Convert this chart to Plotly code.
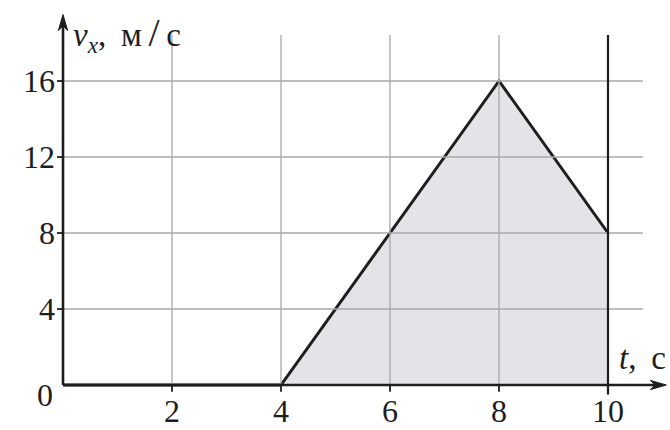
import plotly.graph_objects as go

# Velocity-time graph: v_x(t)
t_points = [0, 4, 8, 10]
v_points = [0, 0, 16, 8]

# Shaded region under the graph (displacement area)
area_t = [4, 8, 10, 10]
area_v = [0, 16, 8, 0]

x_ticks = [2, 4, 6, 8, 10]
y_ticks = [4, 8, 12, 16]
x_tick_labels = ["2", "4", "6", "8", "10"]
y_tick_labels = ["4", "8", "12", "16"]

# Pixel scale of the drawing
W, H = 670, 430
ox, oy = 63, 385          # origin in pixels
px_x, px_y = 54.5, 19.0   # pixels per unit
x_range = [-ox / px_x, (W - ox) / px_x]
y_range = [-(H - oy) / px_y, oy / px_y]

grid_top = 18.42
grid_right = 10.64
x_arrow_end = 11.07
y_arrow_end = 19.5

font_family = "Liberation Serif, DejaVu Serif, serif"
ink = "#1e1e1e"
grid_color = "#a8a8a8"

fig = go.Figure()

fig.add_trace(go.Scatter(
    x=area_t, y=area_v, mode="lines", fill="toself",
    fillcolor="#e4e4e8", line=dict(width=0), hoverinfo="skip",
    showlegend=False,
))

shapes = []
# vertical grid
for xv in x_ticks[:-1]:
    shapes.append(dict(type="line", xref="x", yref="y", x0=xv, x1=xv,
                       y0=0, y1=grid_top, line=dict(color=grid_color, width=1.3),
                       layer="above"))
# horizontal grid
for yv in y_ticks:
    shapes.append(dict(type="line", xref="x", yref="y", x0=0, x1=grid_right,
                       y0=yv, y1=yv, line=dict(color=grid_color, width=1.3),
                       layer="above"))
# vertical boundary at t = 10
shapes.append(dict(type="line", xref="x", yref="y", x0=x_ticks[-1], x1=x_ticks[-1],
                   y0=-0.5, y1=grid_top, line=dict(color=ink, width=2.2),
                   layer="above"))
# y tick marks
for yv in y_ticks:
    shapes.append(dict(type="line", xref="x", yref="y", x0=-0.11, x1=0,
                       y0=yv, y1=yv, line=dict(color=ink, width=1.8), layer="above"))
# x tick marks
for xv in x_ticks[:-1]:
    shapes.append(dict(type="line", xref="x", yref="y", x0=xv, x1=xv,
                       y0=-0.35, y1=0, line=dict(color=ink, width=1.8), layer="above"))

# coordinate axes
shapes.append(dict(type="line", xref="x", yref="y", x0=0, x1=x_arrow_end - 0.15,
                   y0=0, y1=0, line=dict(color=ink, width=2.6), layer="above"))
shapes.append(dict(type="line", xref="x", yref="y", x0=0, x1=0,
                   y0=0, y1=y_arrow_end - 0.4, line=dict(color=ink, width=2.6),
                   layer="above"))

# slim arrowheads (length / half-width given in pixels)
head_len, head_half = 16, 4.6
hx, hy = head_len / px_x, head_half / px_y
shapes.append(dict(
    type="path", xref="x", yref="y", layer="above",
    path=f"M{x_arrow_end},0 L{x_arrow_end - hx},{hy} "
         f"L{x_arrow_end - 0.7 * hx},0 L{x_arrow_end - hx},{-hy} Z",
    fillcolor=ink, line=dict(color=ink, width=1),
))
vx, vy = head_half / px_x, head_len / px_y
shapes.append(dict(
    type="path", xref="x", yref="y", layer="above",
    path=f"M0,{y_arrow_end} L{vx},{y_arrow_end - vy} "
         f"L0,{y_arrow_end - 0.7 * vy} L{-vx},{y_arrow_end - vy} Z",
    fillcolor=ink, line=dict(color=ink, width=1),
))

fig.add_trace(go.Scatter(
    x=t_points, y=v_points, mode="lines",
    line=dict(color=ink, width=3), hoverinfo="skip", showlegend=False,
))

annotations = []
tick_font = dict(family=font_family, size=32, color=ink)
for xv, lab in zip(x_ticks, x_tick_labels):
    annotations.append(dict(x=xv, y=0, xref="x", yref="y", text=lab,
                            showarrow=False, xanchor="center", yanchor="middle",
                            yshift=-26, font=tick_font))
for yv, lab in zip(y_ticks, y_tick_labels):
    annotations.append(dict(x=0, y=yv, xref="x", yref="y", text=lab,
                            showarrow=False, xanchor="right", yanchor="middle",
                            xshift=-6, font=tick_font))
annotations.append(dict(x=0, y=0, xref="x", yref="y", text="0",
                        showarrow=False, xanchor="right", yanchor="middle",
                        xshift=-8, yshift=-10, font=tick_font))

label_font = dict(family=font_family, size=33, color=ink)
annotations.append(dict(x=0, y=y_arrow_end, xref="x", yref="y",
                        text="<i>v<sub>x</sub></i>,\u2009 м\u2009"
                             "<span style='font-size:40px'>/</span>\u2009с",
                        showarrow=False, xanchor="left", yanchor="middle",
                        xshift=8, yshift=-19, font=label_font))
annotations.append(dict(x=x_arrow_end, y=0, xref="x", yref="y",
                        text="<i>t</i>,\u2009 с",
                        showarrow=False, xanchor="right", yanchor="middle",
                        xshift=2, yshift=27, font=label_font))

fig.update_layout(
    width=W, height=H,
    margin=dict(l=0, r=0, t=0, b=0),
    paper_bgcolor="white", plot_bgcolor="white",
    xaxis=dict(range=x_range, visible=False, fixedrange=True),
    yaxis=dict(range=y_range, visible=False, fixedrange=True),
    shapes=shapes, annotations=annotations,
)

fig.write_html("out.html")
